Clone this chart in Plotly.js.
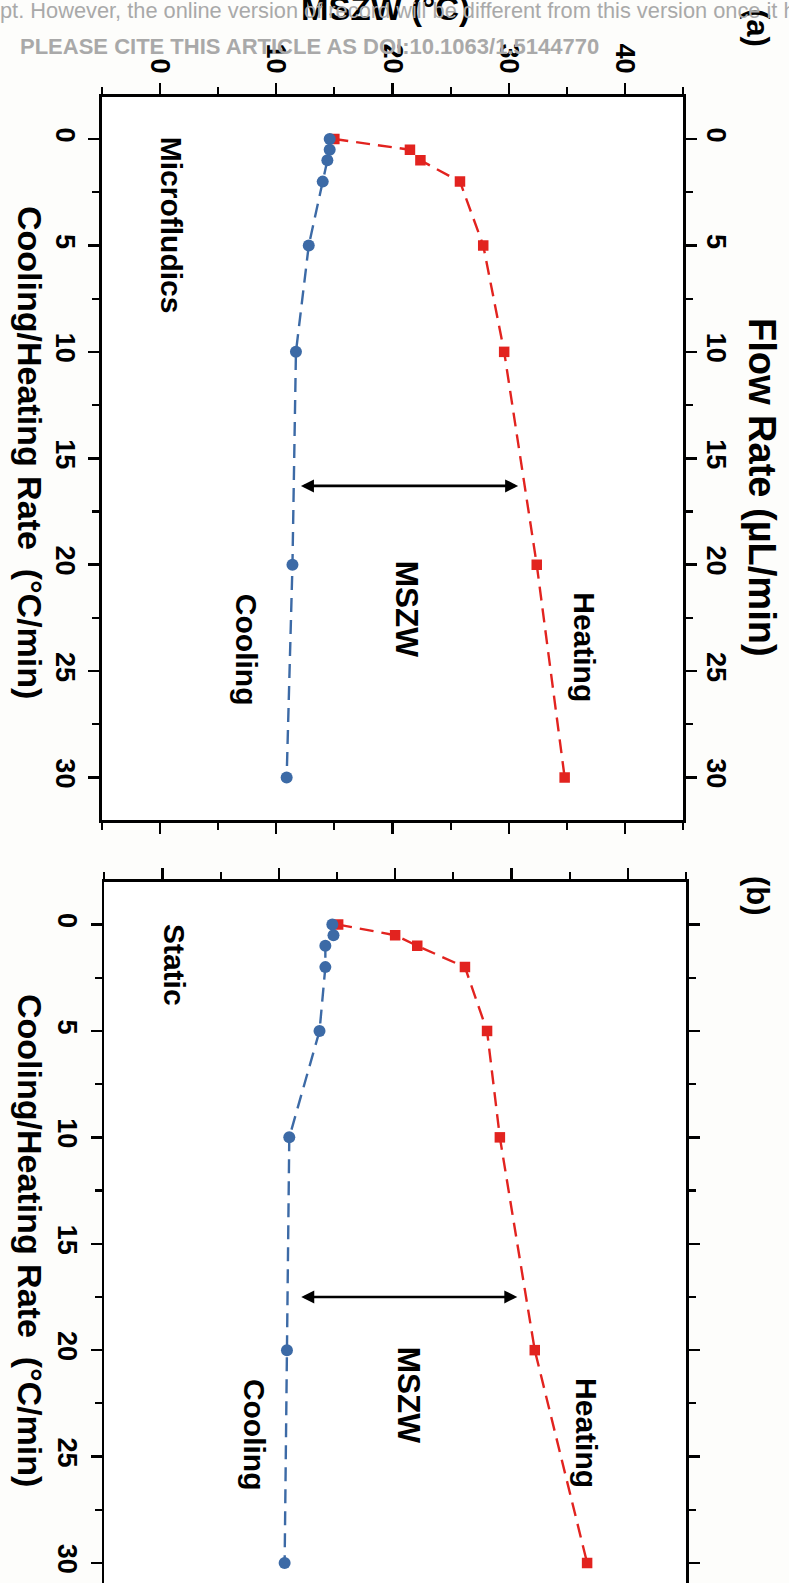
<!DOCTYPE html>
<html>
<head>
<meta charset="utf-8">
<script src="https://cdn.plot.ly/plotly-3.0.1.min.js"></script>
<style>
html,body{margin:0;padding:0;overflow:hidden;background:#fdfdfb;}
#chart{width:789px;height:1620px;}
</style>
</head>
<body>
<div id="chart"></div>
<script>
// ---------- data ----------
const rate = [0, 0.5, 1, 2, 5, 10, 20, 30];
const coolingA = [14.6, 14.6, 14.4, 14.0, 12.8, 11.7, 11.4, 10.9];
const heatingA = [15.0, 21.5, 22.4, 25.8, 27.8, 29.6, 32.4, 34.8];
const coolingB = [14.6, 14.7, 14.0, 14.0, 13.5, 10.9, 10.7, 10.5];
const heatingB = [15.1, 20.0, 21.9, 26.0, 27.9, 29.0, 32.0, 36.5];

const rateTicks = [0, 5, 10, 15, 20, 25, 30];
const mszwTicks = [0, 10, 20, 30, 40];

const arrowRate = [16.3, 17.5];
const arrowFrom = [12.0, 11.8];
const arrowTo = [30.8, 30.5];

const panelLabels = ['(a)', '(b)'];
const modeLabels = ['Microfludics', 'Static'];
const rateTitle = 'Cooling/Heating Rate  (\u00B0C/min)';
const flowTitle = 'Flow Rate (\u00B5L/min)';
const mszwTitle = 'MSZW (\u00B0C)';
const watermark1 = 'pt. However, the online version of record will be different from this version once it h';
const watermark2 = 'PLEASE CITE THIS ARTICLE AS DOI:10.1063/1.5144770';

// ---------- style ----------
const W = 789, H = 1620;
const BLUE = '#3c6aa6', RED = '#e2231f';
const FONT = 'Liberation Sans, Arial, Helvetica, sans-serif';
const py = Y => 1 - Y / H;   // pixel Y -> paper
const px = X => X / W;

function series(x, y, color, symbol, size, xa, ya) {
  return {
    x: x, y: y, xaxis: xa, yaxis: ya, type: 'scatter', mode: 'lines+markers',
    line: {color: color, width: 2.4, dash: '14px,8px'},
    marker: {color: color, symbol: symbol, size: size},
    hoverinfo: 'skip', showlegend: false
  };
}

const traces = [
  series(heatingA, rate, RED, 'square', 10.5, 'x', 'y'),
  series(coolingA, rate, BLUE, 'circle', 12, 'x', 'y'),
  series(heatingB, rate, RED, 'square', 10.5, 'x2', 'y2'),
  series(coolingB, rate, BLUE, 'circle', 12, 'x2', 'y2'),
  // empty trace so the secondary (flow-rate) axis is drawn
  {x: [], y: [], xaxis: 'x', yaxis: 'y3', type: 'scatter', mode: 'lines', hoverinfo: 'skip', showlegend: false}
];

const tickFont = {family: FONT, size: 27, color: '#000', weight: 'bold'};
const minorY = {dtick: 2.5, tick0: 0, ticks: 'outside', ticklen: 7, tickwidth: 2.2, tickcolor: '#000'};

function xAxis(domain, anchor, labels) {
  return {
    domain: domain, anchor: anchor, side: 'top', range: [-5, 45],
    tickvals: mszwTicks, ticktext: mszwTicks.map(String),
    showticklabels: labels, tickangle: 90, tickfont: tickFont,
    ticks: 'outside', ticklen: 11, tickwidth: 2.5, tickcolor: '#000',
    minor: {dtick: 5, tick0: 0, ticks: 'outside', ticklen: 7, tickwidth: 2.2, tickcolor: '#000'},
    showline: true, linewidth: 2.6, linecolor: '#000', mirror: 'ticks',
    showgrid: false, zeroline: false, fixedrange: true
  };
}
function yAxis(domain, anchor, side, labels, extra) {
  return Object.assign({
    domain: domain, anchor: anchor, side: side, range: [32, -2], autorange: false,
    tickvals: rateTicks, ticktext: rateTicks.map(String),
    showticklabels: labels, tickangle: 90, tickfont: tickFont,
    ticks: 'outside', ticklen: 11, tickwidth: 2.5, tickcolor: '#000',
    minor: minorY,
    showline: true, linewidth: 2.6, linecolor: '#000', mirror: 'ticks',
    showgrid: false, zeroline: false, fixedrange: true
  }, extra || {});
}

const domA = [py(820), py(96.5)];
const domB = [py(1605.5), py(882)];

const layout = {
  width: W, height: H,
  margin: {l: 0, r: 0, t: 0, b: 0},
  paper_bgcolor: '#fdfdfb', plot_bgcolor: '#ffffff',
  showlegend: false,
  xaxis: xAxis([px(101.7), px(683.3)], 'y', true),
  yaxis: yAxis(domA, 'x', 'left', true),
  yaxis3: yAxis(domA, 'x', 'right', true, {overlaying: 'y', showline: false, mirror: false, ticklabelstandoff: 1}),
  xaxis2: xAxis([px(104.3), px(686)], 'y2', false),
  yaxis2: yAxis(domB, 'x2', 'left', true),
  annotations: []
};

const ann = layout.annotations;
const txt = (text, x, y, xref, yref, size, extra) => Object.assign({
  text: text, x: x, y: y, xref: xref, yref: yref, showarrow: false,
  textangle: 90, xanchor: 'center', yanchor: 'middle',
  font: {family: FONT, size: size, color: '#000', weight: 'bold'}
}, extra || {});

// in-plot labels
[['x', 'y'], ['x2', 'y2']].forEach(([xr, yr], i) => {
  ann.push(txt(modeLabels[i], 1.0, i === 0 ? 4.05 : 1.9, xr, yr, 30));
  ann.push(txt('MSZW', 21.2, 22.1, xr, yr, 31.5));
  ann.push(txt('Cooling', i === 0 ? 7.4 : 7.9, 24.0, xr, yr, 30));
  ann.push(txt('Heating', 36.5, 23.9, xr, yr, 30));
  ann.push({
    xref: xr, yref: yr, axref: xr, ayref: yr,
    x: arrowTo[i], y: arrowRate[i], ax: arrowFrom[i], ay: arrowRate[i],
    text: '', showarrow: true, arrowside: 'end+start',
    arrowhead: 2, startarrowhead: 2, arrowsize: 1, startarrowsize: 1,
    arrowwidth: 2.6, arrowcolor: '#000'
  });
});

// axis titles and panel labels
ann.push(txt(rateTitle, px(30), py(452), 'paper', 'paper', 34));
ann.push(txt(rateTitle, px(30), py(1240), 'paper', 'paper', 34));
ann.push(txt(flowTitle, px(762), py(487), 'paper', 'paper', 38));
ann.push(txt(mszwTitle, px(385), py(9), 'paper', 'paper', 33, {textangle: 0}));
ann.push(txt(panelLabels[0], px(757), py(28), 'paper', 'paper', 31));
ann.push(txt(panelLabels[1], px(757), py(896), 'paper', 'paper', 31));

// manuscript watermark
ann.push({
  text: watermark1, x: px(-2), y: py(11), xref: 'paper', yref: 'paper',
  xanchor: 'left', yanchor: 'middle', showarrow: false,
  font: {family: 'Liberation Sans Narrow, Liberation Sans, Arial, sans-serif', size: 21.8, color: '#a9a9a9'}
});
ann.push({
  text: watermark2, x: px(18), y: py(47), xref: 'paper', yref: 'paper',
  xanchor: 'left', yanchor: 'middle', showarrow: false,
  font: {family: 'Liberation Sans Narrow, Liberation Sans, Arial, sans-serif', size: 22, color: '#a9a9a9', weight: 'bold'}
});

Plotly.newPlot('chart', traces, layout, {staticPlot: true, displayModeBar: false});
</script>
</body>
</html>
